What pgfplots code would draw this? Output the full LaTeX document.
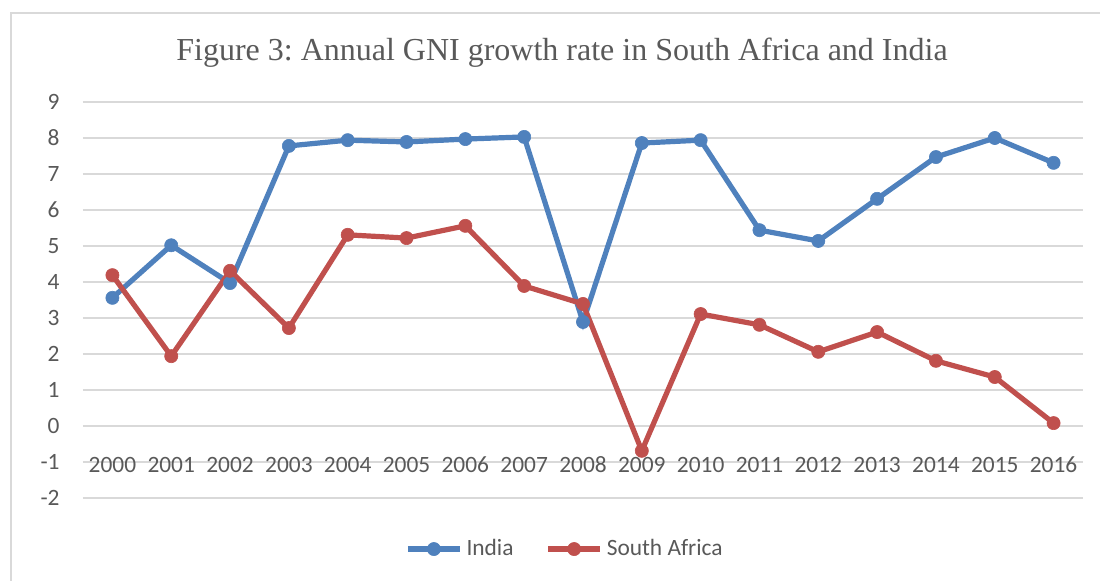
\documentclass[border=0pt]{standalone}
\usepackage{pgfplots}
\pgfplotsset{compat=1.18}
\usepackage{fontspec}
\setmainfont{Carlito}
\newfontfamily\titlefont{Liberation Serif}
\definecolor{indiablue}{HTML}{4F81BD}
\definecolor{sared}{HTML}{C0504D}
\definecolor{txtgray}{HTML}{595959}
\definecolor{gridgray}{HTML}{D9D9D9}
\frenchspacing
\begin{document}
\begin{tikzpicture}
\useasboundingbox (0,0) rectangle (550pt,290.5pt);
\draw[gridgray, line width=0.8pt] (5.5pt,-5pt) -- (5.5pt,284pt) -- (560pt,284pt);
\node[font=\titlefont\fontsize{16}{19}\selectfont, text=txtgray, anchor=center] at (281pt,264pt) {Figure 3: Annual GNI growth rate in South Africa and India};
\begin{axis}[
  at={(41.5pt,41.5pt)}, anchor=south west,
  scale only axis, width=500pt, height=198pt,
  xmin=-0.5, xmax=16.5, ymin=-2, ymax=9,
  clip=false,
  axis line style={draw=none},
  major tick length=0pt,
  xtick={0,...,16},
  xticklabels={2000,2001,2002,2003,2004,2005,2006,2007,2008,2009,2010,2011,2012,2013,2014,2015,2016},
  ytick={-2,-1,0,1,2,3,4,5,6,7,8,9},
  yticklabels={-2,-1,0,1,2,3,4,5,6,7,8,9},
  ymajorgrids, grid style={gridgray, line width=0.75pt},
  tick label style={font=\fontsize{11.7}{13}\selectfont, text=txtgray},
  xticklabel style={anchor=base, inner sep=0pt, yshift=12.5pt},
  yticklabel style={anchor=east, inner sep=0pt, xshift=-11.5pt},
  legend columns=2,
  legend style={at={(0.483,-0.129)}, anchor=center, draw=none, fill=none,
    font=\fontsize{11.7}{13}\selectfont, text=txtgray,
    /tikz/every even column/.append style={column sep=14pt}},
  legend image code/.code={%
    \draw[#1, mark repeat=2, mark phase=2] plot coordinates {(0pt,0pt)(13pt,0pt)(26pt,0pt)};},
]
\addplot[indiablue, line width=2.6pt, mark=*, mark size=3.3pt, mark options={solid, fill=indiablue, draw=indiablue, line width=0.3pt}] coordinates {
(0,3.56)(1,5.02)(2,3.97)(3,7.78)(4,7.94)(5,7.89)(6,7.97)(7,8.03)(8,2.89)(9,7.86)(10,7.94)(11,5.44)(12,5.14)(13,6.31)(14,7.47)(15,8.00)(16,7.31)};
\addlegendentry{India}
\addplot[sared, line width=2.6pt, mark=*, mark size=3.3pt, mark options={solid, fill=sared, draw=sared, line width=0.3pt}] coordinates {
(0,4.19)(1,1.94)(2,4.31)(3,2.72)(4,5.31)(5,5.22)(6,5.56)(7,3.89)(8,3.39)(9,-0.69)(10,3.11)(11,2.81)(12,2.06)(13,2.61)(14,1.81)(15,1.36)(16,0.08)};
\addlegendentry{South Africa}
\end{axis}
\end{tikzpicture}
\end{document}
